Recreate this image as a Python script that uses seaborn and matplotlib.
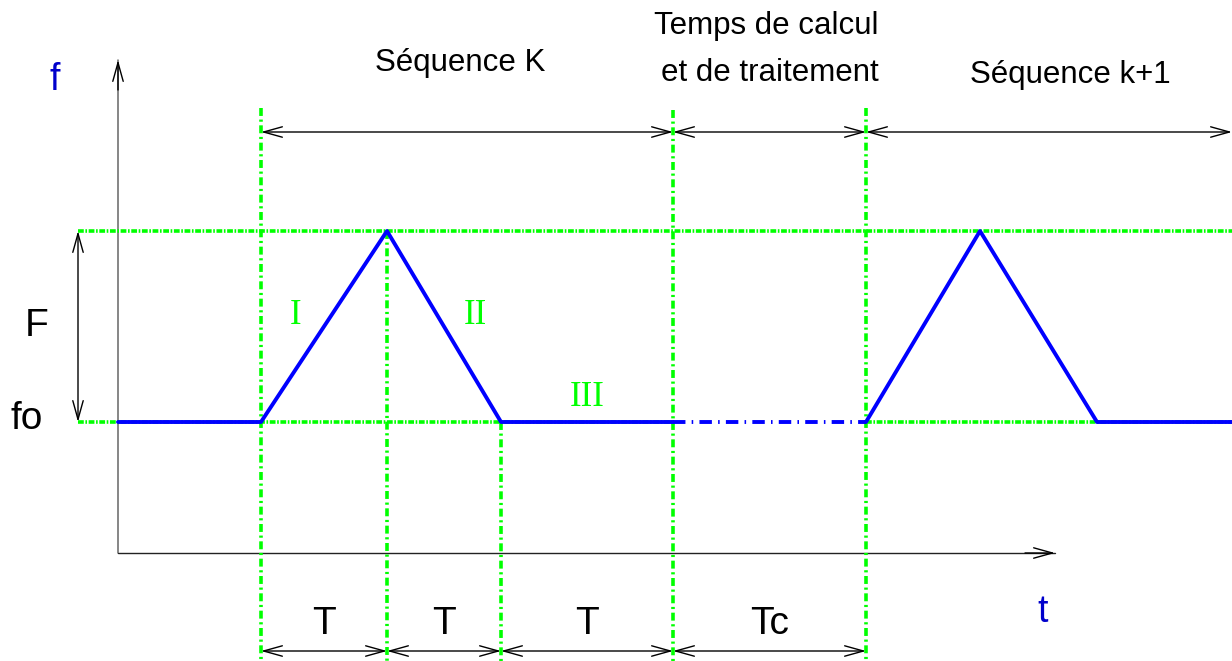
import matplotlib
matplotlib.use("Agg")
import matplotlib.pyplot as plt
import seaborn as sns
import pandas as pd
from matplotlib import font_manager

# ---- data (diagram units: t horizontal, f vertical) ----
t_origin = 118
t_axis_end = 1055
f_axis_top = 493
f0 = 131
f_peak = 322

seq_k_t = [118, 261, 387, 501, 673]
seq_k_f = [131, 131, 322, 131, 131]
calc_t = [673, 866]
calc_f = [131, 131]
seq_k1_t = [866, 980, 1097, 1232]
seq_k1_f = [131, 322, 131, 131]

boundary_t = [261, 387, 501, 673, 866]
boundary_top = [445, 322, 131, 443, 445]
interval_labels = ["T", "T", "T", "Tc"]
phase_labels = ["I", "II", "III"]

sns.set_theme(style="white")
avail = {f.name for f in font_manager.fontManager.ttflist}
sans = ["Liberation Sans Narrow", "Liberation Sans", "DejaVu Sans"]
sans = [f for f in sans if f in avail] or ["DejaVu Sans"]
plt.rcParams["font.family"] = sans
plt.rcParams["text.color"] = "black"

fig = plt.figure(figsize=(12.32, 6.61), dpi=100)
ax = fig.add_axes([0, 0, 1, 1])

GREEN = "#00ff00"
BLUE = "#0000ff"
G_LW = 2.6
g_h = (0, (1.6, 0.45, 0.45, 0.45))
g_v = (0, (2.2, 1.0, 0.6, 1.0))

# green guide lines
ax.plot([78, 1232], [f_peak, f_peak], color=GREEN, lw=G_LW, ls=g_h, zorder=2)
ax.plot([78, calc_t[0]], [f0, f0], color=GREEN, lw=G_LW, ls=g_h, zorder=2)
ax.plot([calc_t[1], 1232], [f0, f0], color=GREEN, lw=G_LW, ls=g_h, zorder=2)
for x, top in zip(boundary_t, boundary_top):
    ax.plot([x, x], [top, -108], color=GREEN, lw=G_LW, ls=g_v, zorder=2)

# axes arrows
ax.plot([t_origin, t_origin], [0, f_axis_top], color="#666666", lw=1.1, zorder=1)
ax.plot([t_origin, t_axis_end], [0, 0], color="#222222", lw=1.0, zorder=1)
akw = dict(arrowstyle="->,head_length=0.9,head_width=0.25", lw=1.0, color="black",
           shrinkA=0, shrinkB=0, mutation_scale=15)
ax.annotate("", xy=(t_origin, f_axis_top), xytext=(t_origin, f_axis_top - 30), arrowprops=akw)
ax.annotate("", xy=(t_axis_end, 0), xytext=(t_axis_end - 30, 0), arrowprops=akw)

# signal
df1 = pd.DataFrame({"t": seq_k_t, "f": seq_k_f})
df2 = pd.DataFrame({"t": calc_t, "f": calc_f})
df3 = pd.DataFrame({"t": seq_k1_t, "f": seq_k1_f})
sns.lineplot(data=df1, x="t", y="f", sort=False, estimator=None, color=BLUE, lw=2.8, ax=ax, zorder=4)
sns.lineplot(data=df2, x="t", y="f", sort=False, estimator=None, color=BLUE, lw=2.8,
             ls=(0, (3.2, 1.6, 0.4, 1.6)), ax=ax, zorder=4)
sns.lineplot(data=df3, x="t", y="f", sort=False, estimator=None, color=BLUE, lw=2.8, ax=ax, zorder=4)
ax.set_xlim(0, 1232)
ax.set_ylim(-108, 553)
ax.axis("off")

# double arrows
dkw = dict(arrowstyle="<->,head_length=0.9,head_width=0.25", lw=1.0, color="black",
           shrinkA=0, shrinkB=0, mutation_scale=15)
top_y = 421
tops = [261, 673, 866, 1232]
for a, b in zip(tops[:-1], tops[1:]):
    ax.annotate("", xy=(b, top_y), xytext=(a, top_y), arrowprops=dkw, zorder=3)
ax.annotate("", xy=(78, f0), xytext=(78, f_peak), arrowprops=dkw, zorder=3)
bot_y = -98
for a, b, lab in zip(boundary_t[:-1], boundary_t[1:], interval_labels):
    ax.annotate("", xy=(b, bot_y), xytext=(a, bot_y), arrowprops=dkw, zorder=3)
    ax.text((a + b) / 2, -71, lab, fontsize=28, ha="center", va="center", color="black")

# texts
ax.text(55, 473, "f", fontsize=27, color="#0000cc", ha="center", va="center")
ax.text(1043, -59, "t", fontsize=27, color="#0000cc", ha="center", va="center")
ax.text(460, 490, "Séquence K", fontsize=22.5, ha="center", va="center", color="black")
ax.text(766, 527, "Temps de calcul", fontsize=22.5, ha="center", va="center", color="black")
ax.text(770, 480, "et de traitement", fontsize=22.5, ha="center", va="center", color="black")
ax.text(1070, 478, "Séquence k+1", fontsize=22.5, ha="center", va="center", color="black")
ax.text(37, 227, "F", fontsize=28, ha="center", va="center", color="black")
ax.text(27, 134, "fo", fontsize=28, ha="center", va="center", color="black")

serif = ["Liberation Serif", "DejaVu Serif"]
for (x, y), lab in zip([(296, 238), (475, 238), (587, 156)], phase_labels):
    ax.text(x, y, lab, fontsize=25, color=GREEN, ha="center", va="center", family=serif)

fig.savefig("out.png", dpi=100)
